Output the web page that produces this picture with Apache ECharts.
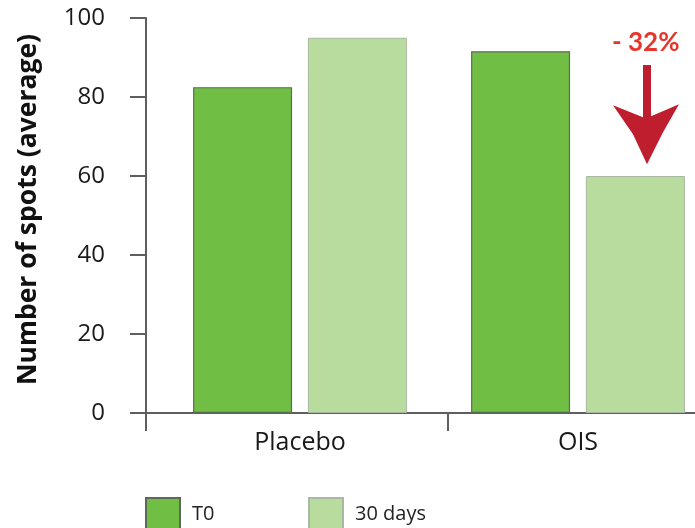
<!DOCTYPE html>
<html>
<head>
<meta charset="utf-8">
<script src="https://cdn.jsdelivr.net/npm/echarts@6/dist/echarts.min.js"></script>
<style>
html,body{margin:0;padding:0;background:#fff;}
#chart{width:695px;height:528px;}
</style>
</head>
<body>
<div id="chart"></div>
<script>
var categories = ['Placebo', 'OIS'];
var seriesNames = ['T0', '30 days'];
var valuesT0 = [82.5, 91.6];
var values30 = [95, 60];
var yTicks = [0, 20, 40, 60, 80, 100];
var annotationText = '- 32%';

var chart = echarts.init(document.getElementById('chart'));
var axisCol = '#5f5f5f';
var option = {
  animation: false,
  backgroundColor: '#ffffff',
  grid: [
    { left: 161, top: 18, width: 556, height: 395, outerBoundsMode: 'none', containLabel: false },
    { left: 146, top: 18, width: 604, height: 395, outerBoundsMode: 'none', containLabel: false }
  ],
  xAxis: [
    { type: 'category', gridIndex: 0, data: categories,
      axisLine: { show: false }, axisTick: { show: false },
      axisLabel: { margin: 17, fontSize: 25, color: '#1a1a1a', fontFamily: 'Open Sans' } },
    { type: 'category', gridIndex: 1, data: ['', ''],
      axisLine: { show: true, lineStyle: { color: axisCol, width: 2 } },
      axisTick: { show: true, length: 18, lineStyle: { color: axisCol, width: 2 } },
      axisLabel: { show: false } }
  ],
  yAxis: [
    { type: 'value', gridIndex: 0, min: yTicks[0], max: yTicks[yTicks.length - 1], interval: 20,
      show: false },
    { type: 'value', gridIndex: 1, min: yTicks[0], max: yTicks[yTicks.length - 1], interval: 20,
      name: 'Number of spots (average)', nameLocation: 'middle', nameGap: 104,
      nameTextStyle: { fontSize: 26.5, fontWeight: 'bold', color: '#111', fontFamily: 'Open Sans', padding: [0, 0, 0, 12] },
      axisLine: { show: true, lineStyle: { color: axisCol, width: 2 } },
      axisTick: { show: true, length: 16, lineStyle: { color: axisCol, width: 2 } },
      splitLine: { show: false },
      axisLabel: { margin: 41, fontSize: 24, color: '#1a1a1a', fontFamily: 'Open Sans' } }
  ],
  legend: [
    { data: [seriesNames[0]], left: 145, top: 497, padding: 0, icon: 'rect', itemWidth: 34, itemHeight: 33,
      textStyle: { fontSize: 20, color: '#222', fontFamily: 'Open Sans', padding: [0, 0, 0, 7] } },
    { data: [seriesNames[1]], left: 308, top: 497, padding: 0, icon: 'rect', itemWidth: 34, itemHeight: 33,
      textStyle: { fontSize: 20, color: '#222', fontFamily: 'Open Sans', padding: [0, 0, 0, 7] } }
  ],
  series: [
    { name: seriesNames[0], type: 'bar', xAxisIndex: 0, yAxisIndex: 0, data: valuesT0,
      barWidth: 99, barGap: '16%',
      itemStyle: { color: '#71be45', borderColor: '#5e6a58', borderWidth: 1.2 } },
    { name: seriesNames[1], type: 'bar', xAxisIndex: 0, yAxisIndex: 0, data: values30,
      barWidth: 99,
      itemStyle: { color: '#b8dc9d', borderColor: '#a9b8a0', borderWidth: 1 } }
  ]
};
chart.setOption(option);

// annotation arrow above the OIS "30 days" bar
var yTip = chart.convertToPixel({ yAxisIndex: 0 }, values30[1] + 3);
var cx = 647;
var yTop = 65;
chart.setOption({
  graphic: [
    { type: 'text', left: cx - 35, top: 30,
      style: { text: annotationText, fontSize: 26, fontWeight: 'bold', fill: '#e8352c', fontFamily: 'Lato' } },
    { type: 'polygon',
      shape: { points: [
        [cx - 4, yTop], [cx + 4, yTop], [cx + 4, yTip - 48],
        [cx + 32, yTip - 60], [cx + 16, yTip - 32], [cx, yTip],
        [cx - 14, yTip - 30], [cx - 34, yTip - 59], [cx - 4, yTip - 47]
      ] },
      style: { fill: '#be1e2d' } }
  ]
});
</script>
</body>
</html>
